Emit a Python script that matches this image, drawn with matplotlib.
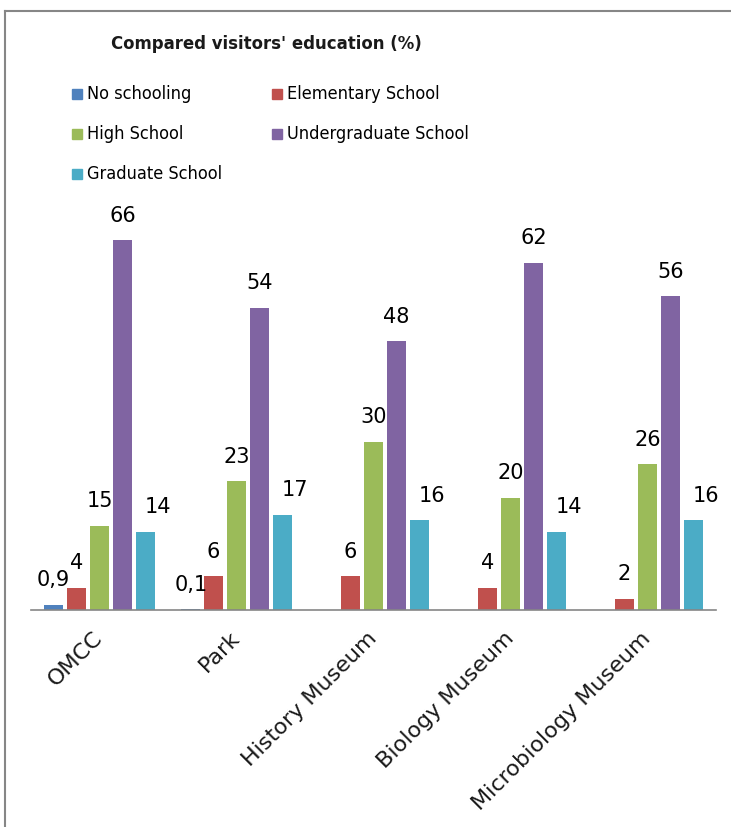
import numpy as np
import matplotlib.pyplot as plt
from matplotlib.lines import Line2D
from matplotlib.patches import Rectangle
from matplotlib.transforms import ScaledTranslation

plt.rcParams['font.family'] = ['DejaVu Sans']

# --------------------------- data ---------------------------
venues = ["OMCC", "Park", "History Museum", "Biology Museum", "Microbiology Museum"]
levels = ["No schooling", "Elementary School", "High School",
          "Undergraduate School", "Graduate School"]
no_schooling = [0.9, 0.1, np.nan, np.nan, np.nan]
elementary = [4, 6, 6, 4, 2]
high_school = [15, 23, 30, 20, 26]
undergraduate = [66, 54, 48, 62, 56]
graduate = [14, 17, 16, 14, 16]
series = [no_schooling, elementary, high_school, undergraduate, graduate]
colors = ["#4F81BD", "#C0504D", "#9BBB59", "#8064A2", "#4BACC6"]

# --------------------------- layout helpers ---------------------------
W, H = 731, 827
def fx(px):
    return px / W
def fy(py):
    return 1 - py / H

fig = plt.figure(figsize=(W / 100, H / 100), dpi=100)
ax = fig.add_axes([fx(31), fy(610), (716 - 31) / W, (610 - 218) / H])

x = np.arange(len(venues))
step = 0.167
width = 0.138
for i, (vals, col) in enumerate(zip(series, colors)):
    pos = x + (i - 2) * step
    ax.bar(pos, vals, width=width, color=col, zorder=2)
    # value labels; the graduate column has its labels nudged right
    dx = 9 if i == 4 else 0
    for px_, v in zip(pos, vals):
        if np.isnan(v):
            continue
        txt = f"{v:g}".replace(".", ",")
        ax.annotate(txt, (px_, v), xytext=(dx, 10.5), textcoords="offset points",
                    ha="center", va="bottom", fontsize=15, color="black")

ax.set_xlim(-0.5, len(venues) - 0.5)
ax.set_ylim(0, 70)
ax.set_yticks([])
ax.set_xticks(x)
ax.set_xticklabels(venues, rotation=45, ha="right", rotation_mode="anchor",
                   fontsize=16, color="#1a1a1a")
ax.tick_params(axis="x", length=0, pad=13)
shift = ScaledTranslation(-0.07, 0, fig.dpi_scale_trans)
for lbl in ax.get_xticklabels():
    lbl.set_transform(lbl.get_transform() + shift)
for s in ["left", "right", "top"]:
    ax.spines[s].set_visible(False)
ax.spines["bottom"].set_color("#868686")
ax.spines["bottom"].set_linewidth(1.2)

# title
fig.text(fx(266), fy(44), "Compared visitors' education (%)", ha="center", va="center",
         fontsize=13.2, fontweight="bold", fontstretch="condensed", color="#1a1a1a")

# legend, laid out row by row in two columns
leg_cols = [72, 272]
leg_rows = [94, 134, 174]
for k, (lab, col) in enumerate(zip(levels, colors)):
    cx = leg_cols[k % 2]
    cy = leg_rows[k // 2]
    fig.add_artist(Rectangle((fx(cx), fy(cy + 5)), 10 / W, 10 / H,
                             transform=fig.transFigure, color=col))
    fig.text(fx(cx + 15), fy(cy), lab, ha="left", va="center", fontsize=13,
             fontstretch="condensed", color="black")

# chart frame
fig.add_artist(Line2D([fx(5), fx(5)], [fy(11), 0], transform=fig.transFigure,
                      color="#868686", lw=1.5))
fig.add_artist(Line2D([fx(5), 1], [fy(11), fy(11)], transform=fig.transFigure,
                      color="#868686", lw=1.5))

fig.savefig("out.png", dpi=100)
